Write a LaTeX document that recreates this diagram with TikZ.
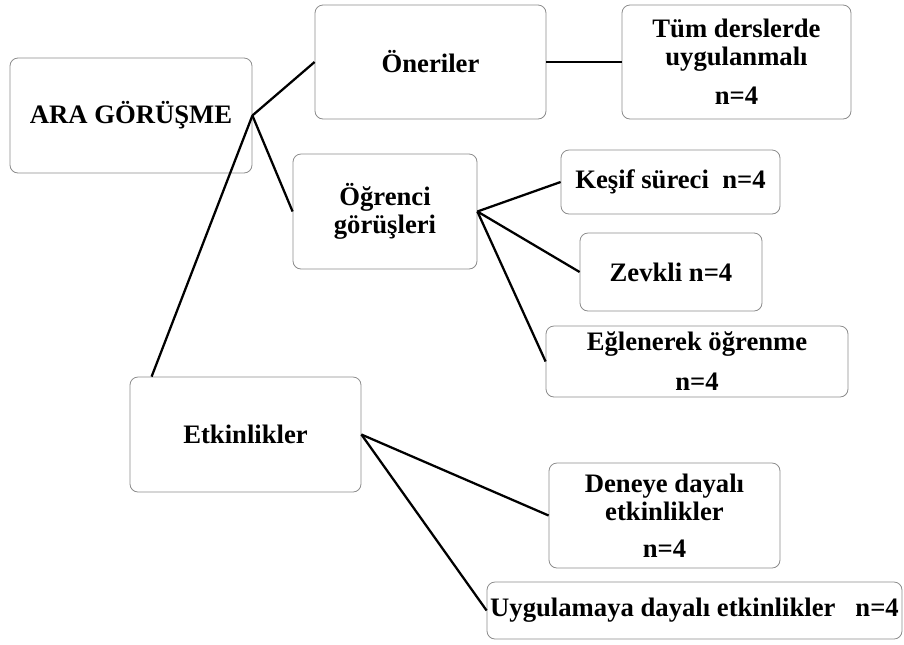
\documentclass[tikz,border=0pt]{standalone}
\usepackage{fontspec}
\setmainfont{Liberation Serif}
\usetikzlibrary{positioning}

\tikzset{
  box/.style={draw=gray!90, line width=0.6pt, rounded corners=6pt, fill=white,
    inner sep=0pt, align=center, font=\bfseries\fontsize{20}{21}\selectfont},
  boxsize/.style 2 args={minimum width=#1*0.75pt, minimum height=#2*0.75pt},
  link/.style={line width=1.7pt}
}

\begin{document}
\begin{tikzpicture}[x=0.75pt, y=-0.75pt]
        \useasboundingbox (0,0) rectangle (904,644);

        \node[box, boxsize={242}{115}] (ara) at (131,115.5) {ARA GÖRÜŞME};
        \node[box, boxsize={231}{114}] (oner) at (430.5,62) {Öneriler};
        \node[box, boxsize={229}{114}] (tum) at (736.5,62) {Tüm derslerde\\uygulanmalı\\[8pt]n=4};
        \node[box, boxsize={184}{115}] (ogr) at (385,211.5) {Öğrenci\\görüşleri};
        \node[box, boxsize={219}{64}] (kesif) at (670.5,182) {Keşif süreci\ \ n=4};
        \node[box, boxsize={182}{78}] (zevk) at (671,272) {Zevkli n=4};
        \node[box, boxsize={302}{71}] (eglen) at (697,361.5) {Eğlenerek öğrenme\\[9pt]n=4};
        \node[box, boxsize={231}{115}] (etk) at (245.5,434.5) {Etkinlikler};
        \node[box, boxsize={231}{105}] (deney) at (664.5,515.5) {Deneye dayalı\\etkinlikler\\[7pt]n=4};
        \node[box, boxsize={415}{57}] (uygul) at (694.5,610.5) {Uygulamaya dayalı etkinlikler\ \ \ n=4};

        \draw[link] (ara.east) -- (oner.west);
        \draw[link] (ara.east) -- (ogr.west);
        \draw[link] (ara.east) -- ([xshift=16.5pt]etk.north west);
        \draw[link] (oner.east) -- (tum.west);
        \draw[link] (ogr.east) -- (kesif.west);
        \draw[link] (ogr.east) -- (zevk.west);
        \draw[link] (ogr.east) -- (eglen.west);
        \draw[link] (etk.east) -- (deney.west);
        \draw[link] (etk.east) -- (uygul.west);
\end{tikzpicture}
\end{document}
